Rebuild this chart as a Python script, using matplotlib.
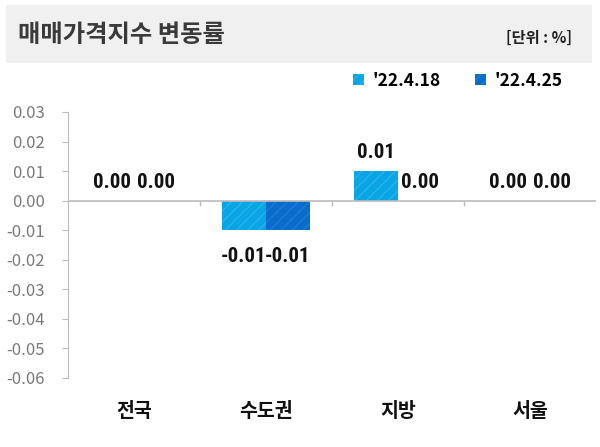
import numpy as np
import matplotlib.pyplot as plt
from matplotlib.patches import Patch, Rectangle

plt.rcParams['font.family'] = ['Noto Sans CJK KR', 'DejaVu Sans']
plt.rcParams['hatch.linewidth'] = 0.6

# 데이터
categories = ["전국", "수도권", "지방", "서울"]
series_names = ["'22.4.18", "'22.4.25"]
week1 = [0.00, -0.01, 0.01, 0.00]
week2 = [0.00, -0.01, 0.00, 0.00]
yticks = [0.03, 0.02, 0.01, 0.00, -0.01, -0.02, -0.03, -0.04, -0.05, -0.06]

colors = ["#0aa5e5", "#0a6dcc"]
hatch_colors = ["#3bb8ec", "#2a82d6"]
num_font = ['Roboto Condensed', 'DejaVu Sans']

fig = plt.figure(figsize=(6, 4.47), dpi=100)

# 제목 영역
fig.patches.append(Rectangle((6 / 600, 1 - 63 / 447), 586 / 600, 58 / 447,
                             transform=fig.transFigure, facecolor="#f0f0f0",
                             edgecolor="none", zorder=0))
fig.text(18 / 600, 1 - 35 / 447, "매매가격지수 변동률", fontsize=17.5, fontweight="bold",
         color="#3a3a3a", va="center", ha="left")
fig.text(572 / 600, 1 - 38 / 447, "[단위 : %]", fontsize=11, fontweight="bold",
         color="#222222", va="center", ha="right")

ax = fig.add_axes([68 / 600, 1 - 378 / 447, 528 / 600, 266 / 447])

x = np.arange(len(categories))
w = 1 / 3
for i, vals in enumerate([week1, week2]):
    pos = x - w / 2 + i * w
    ax.bar(pos, vals, width=w, color=colors[i], edgecolor=hatch_colors[i],
           linewidth=0, hatch="///", zorder=2)
    for xp, v in zip(pos, vals):
        yy = v - 0.0108 if v < 0 else v + 0.0043
        ax.text(xp, yy, f"{v:.2f}", ha="center", va="baseline",
                fontsize=15, fontweight="bold", color="#111111", family=num_font)

ax.set_ylim(-0.06, 0.03)
ax.set_xlim(-0.5, len(categories) - 0.5)
ax.set_yticks(yticks)
ax.set_yticklabels([f"{t:.2f}" for t in yticks], color="#7a7a7a", fontsize=12,
                   fontweight="light")
ax.tick_params(axis="y", length=4.5, color="#bbbbbb", pad=12)
ax.set_xticks([])

for s in ["top", "right", "bottom"]:
    ax.spines[s].set_visible(False)
ax.spines["left"].set_color("#bbbbbb")

ax.axhline(0, color="#bbbbbb", linewidth=1.2, zorder=3)
ax.vlines(x[:-1] + 0.5, -0.0018, 0, color="#bbbbbb", linewidth=1.0, zorder=3)

for xi, name in zip(x, categories):
    ax.text(xi, -0.0713, name, ha="center", va="center", fontsize=14,
            fontweight="bold", color="#111111", clip_on=False)

handles = [Patch(facecolor=colors[i], edgecolor=hatch_colors[i], hatch="///",
                 linewidth=0) for i in range(2)]
fig.legend(handles, series_names, loc="center right",
           bbox_to_anchor=(578 / 600, 1 - 81 / 447), ncol=2, frameon=False,
           prop={"size": 12.5, "weight": "bold"},
           handlelength=0.6, handleheight=0.6,
           handletextpad=0.5, columnspacing=2.0)

fig.savefig("out.png", dpi=100)
